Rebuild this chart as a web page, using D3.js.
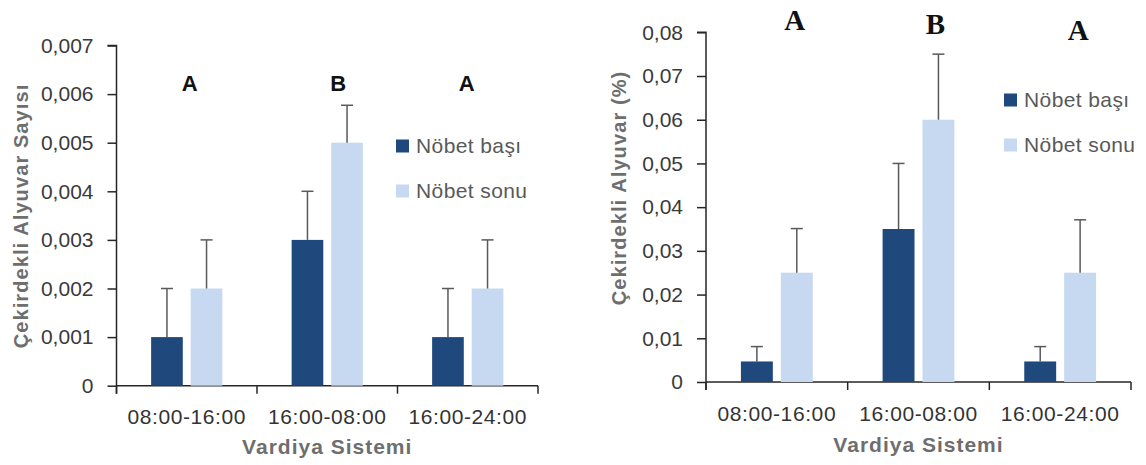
<!DOCTYPE html>
<html><head><meta charset="utf-8">
<script src="https://cdn.jsdelivr.net/npm/d3@7"></script>
<style>body{margin:0;background:#fff}svg{display:block}</style>
</head><body><svg id="c" width="1146" height="465"></svg>
<script>
// ---- data ----
const categories = ["08:00-16:00", "16:00-08:00", "16:00-24:00"];
const seriesNames = ["Nöbet başı", "Nöbet sonu"];

const leftBasi = [0.001, 0.003, 0.001];
const leftBasiErr = [0.001, 0.001, 0.001];
const leftSonu = [0.002, 0.005, 0.002];
const leftSonuErr = [0.001, 0.00077, 0.001];
const leftTicks = [0, 0.001, 0.002, 0.003, 0.004, 0.005, 0.006, 0.007];
const leftLetters = ["A", "B", "A"];
const leftYTitle = "Çekirdekli Alyuvar Sayısı";

const rightBasi = [0.0047, 0.035, 0.0047];
const rightBasiErr = [0.0034, 0.015, 0.0034];
const rightSonu = [0.025, 0.060, 0.025];
const rightSonuErr = [0.0101, 0.015, 0.0121];
const rightTicks = [0, 0.01, 0.02, 0.03, 0.04, 0.05, 0.06, 0.07, 0.08];
const rightLetters = ["A", "B", "A"];
const rightYTitle = "Çekirdekli Alyuvar (%)";

const xTitle = "Vardiya Sistemi";

// ---- styles ----
const colors = ["#1f497d", "#c6d9f1"];
const sans = "'Liberation Sans', Arial, sans-serif";
const serif = "'Liberation Serif', 'Times New Roman', serif";
const loc = d3.formatLocale({decimal: ",", thousands: ".", grouping: [3], currency: ["", ""]});

const svg = d3.select("#c");

function drawChart(cfg) {
  const g = svg.append("g");
  const x = d3.scaleBand().domain(cfg.categories).range([cfg.x0, cfg.x1]);
  const x1 = d3.scaleBand().domain(seriesNames).range([0, x.bandwidth() * 0.507]).paddingInner(0.2);
  const y = d3.scaleLinear().domain([0, cfg.max]).range([cfg.yBase, cfg.yTop]);
  const fmt = loc.format(cfg.fmt);

  // y axis
  const yAxis = d3.axisLeft(y).tickValues(cfg.ticks).tickSize(9).tickPadding(14)
    .tickFormat(d => d === 0 ? "0" : fmt(d));
  const ya = g.append("g").attr("transform", `translate(${cfg.x0},0)`).call(yAxis);
  ya.select(".domain").attr("d", `M-9,${cfg.yTop}H0V${cfg.yBase + 8}`);
  ya.selectAll("line,path").attr("stroke", "#262626").attr("stroke-width", 1.5);
  ya.selectAll("text").attr("font-family", sans).attr("font-size", 21).attr("fill", "#3a3a3a");

  // x axis (ticks between categories)
  const xa = g.append("g").attr("transform", `translate(0,${cfg.yBase})`);
  xa.append("path").attr("d", `M${cfg.x0},0H${cfg.x1}`).attr("stroke", "#262626").attr("stroke-width", 1.5).attr("fill", "none");
  const bounds = cfg.categories.map(c => x(c)).concat([x(cfg.categories[cfg.categories.length - 1]) + x.bandwidth()]);
  xa.selectAll("line.tk").data(bounds).join("line").attr("class", "tk")
    .attr("x1", d => d).attr("x2", d => d).attr("y1", 0).attr("y2", 8)
    .attr("stroke", "#262626").attr("stroke-width", 1.5);
  xa.selectAll("text.cat").data(cfg.categories).join("text").attr("class", "cat")
    .attr("x", d => x(d) + x.bandwidth() / 2).attr("y", cfg.catDy)
    .attr("text-anchor", "middle").attr("dy", "0.35em").attr("font-family", sans).attr("font-size", 21)
    .attr("letter-spacing", 0.6).attr("fill", "#333")
    .text(d => d);

  // bars
  const series = [cfg.basi, cfg.sonu];
  const errs = [cfg.basiErr, cfg.sonuErr];
  const groupOff = (x.bandwidth() - x1.range()[1]) / 2;
  series.forEach((vals, si) => {
    const bx = i => x(cfg.categories[i]) + groupOff + x1(seriesNames[si]);
    g.append("g").selectAll("rect").data(vals).join("rect")
      .attr("x", (d, i) => bx(i)).attr("width", x1.bandwidth())
      .attr("y", d => y(d)).attr("height", d => cfg.yBase - y(d))
      .attr("fill", colors[si]);
    const eg = g.append("g").attr("stroke", "#595959").attr("stroke-width", 1.5);
    vals.forEach((d, i) => {
      const cx = bx(i) + x1.bandwidth() / 2;
      const top = y(d + errs[si][i]);
      eg.append("line").attr("x1", cx).attr("x2", cx).attr("y1", y(d)).attr("y2", top);
      eg.append("line").attr("x1", cx - 6).attr("x2", cx + 6).attr("y1", top).attr("y2", top);
    });
  });

  // significance letters
  g.selectAll("text.let").data(cfg.letters).join("text").attr("class", "let")
    .attr("x", (d, i) => x(cfg.categories[i]) + x.bandwidth() / 2 + cfg.letterDx[i])
    .attr("y", (d, i) => cfg.letterY[i])
    .attr("text-anchor", "middle").attr("font-family", cfg.letterFont)
    .attr("font-size", cfg.letterSize).attr("font-weight", "bold").attr("fill", "#111")
    .text(d => d);

  // legend
  const lg = g.append("g").attr("transform", `translate(${cfg.legX},${cfg.legY})`);
  seriesNames.forEach((s, i) => {
    lg.append("rect").attr("x", 0).attr("y", i * 45 - 6.5).attr("width", 13).attr("height", 13).attr("fill", colors[i]);
    lg.append("text").attr("x", 20).attr("y", i * 45).attr("dy", "0.35em")
      .attr("font-family", sans).attr("font-size", 21).attr("letter-spacing", 0.4)
      .attr("fill", "#595959").text(s);
  });

  // axis titles
  g.append("text").attr("transform", `translate(${cfg.yTitleX},${cfg.yTitleY}) rotate(-90)`)
    .attr("text-anchor", "middle").attr("dy", "0.35em")
    .attr("font-family", sans).attr("font-size", 20).attr("font-weight", "bold")
    .attr("letter-spacing", 1.1).attr("fill", "#6e6e6e").text(cfg.yTitle);
  g.append("text").attr("x", (cfg.x0 + cfg.x1) / 2).attr("y", cfg.xTitleY).attr("dy", "0.35em")
    .attr("text-anchor", "middle").attr("font-family", sans).attr("font-size", 21).attr("font-weight", "bold")
    .attr("letter-spacing", 1).attr("fill", "#6e6e6e").text(xTitle);
}

drawChart({
  categories, basi: leftBasi, basiErr: leftBasiErr, sonu: leftSonu, sonuErr: leftSonuErr,
  ticks: leftTicks, max: 0.007, fmt: ".3f", letters: leftLetters, yTitle: leftYTitle,
  x0: 116.5, x1: 538, yTop: 45.5, yBase: 385.7, catDy: 31,
  letterDx: [3, 11, -1], letterY: [91, 91, 91], letterFont: sans, letterSize: 22,
  legX: 396, legY: 146, yTitleX: 21, yTitleY: 216, xTitleY: 447
});

drawChart({
  categories, basi: rightBasi, basiErr: rightBasiErr, sonu: rightSonu, sonuErr: rightSonuErr,
  ticks: rightTicks, max: 0.08, fmt: ".2f", letters: rightLetters, yTitle: rightYTitle,
  x0: 706, x1: 1131, yTop: 32.3, yBase: 382, catDy: 31.5,
  letterDx: [18, 17, 18], letterY: [30, 33.5, 39.5], letterFont: serif, letterSize: 29,
  legX: 1004, legY: 100, yTitleX: 619, yTitleY: 188, xTitleY: 445
});
</script></body></html>
